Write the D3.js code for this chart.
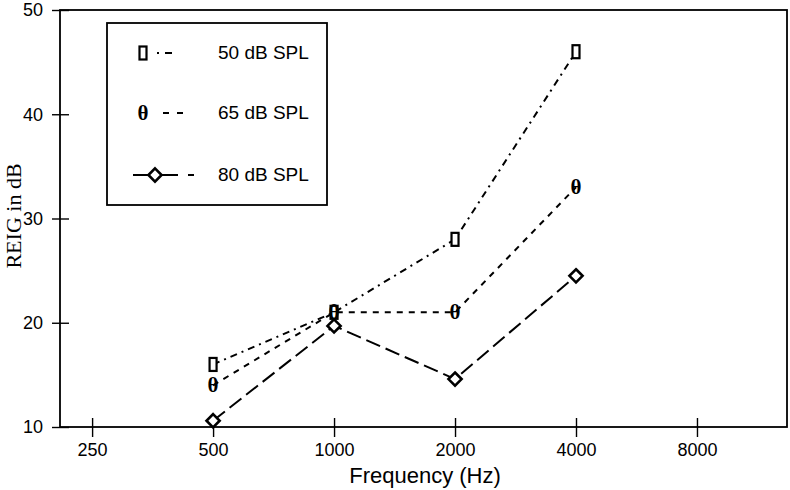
<!DOCTYPE html>
<html>
<head>
<meta charset="utf-8">
<script src="https://cdn.jsdelivr.net/npm/d3@7"></script>
<style>
  body { margin: 0; background: #fff; }
  svg text { fill: #000; }
</style>
</head>
<body>
<div id="chart"></div>
<script>
// Data
const frequencies = [500, 1000, 2000, 4000];
const spl50 = [16, 21, 28, 46];
const spl65 = [14, 21, 21, 33];
const spl80 = [10.6, 19.7, 14.6, 24.5];
const xTicks = [250, 500, 1000, 2000, 4000, 8000];
const yTicks = [10, 20, 30, 40, 50];
const seriesNames = ["50 dB SPL", "65 dB SPL", "80 dB SPL"];

const margin = { top: 10, right: 3, bottom: 63, left: 60 },
    width = 790 - margin.left - margin.right,
    height = 490 - margin.top - margin.bottom;

const sans = "Liberation Sans, Arial, sans-serif";
const serif = "Liberation Serif, Times New Roman, serif";

const svg = d3.select("#chart")
    .append("svg")
    .attr("width", 790)
    .attr("height", 490)
    .append("g")
    .attr("transform", `translate(${margin.left},${margin.top})`);

// Scales
const x = d3.scaleLog().base(2)
    .domain([208, 13400])
    .range([0, width]);

const y = d3.scaleLinear()
    .domain([10, 50])
    .range([height, 0]);

// Frame
svg.append("rect")
    .attr("width", width)
    .attr("height", height)
    .attr("fill", "none")
    .attr("stroke", "#000")
    .attr("stroke-width", 1.8);

// X axis
const xAxis = svg.append("g")
    .attr("transform", `translate(0,${height})`)
    .call(d3.axisBottom(x).tickValues(xTicks).tickFormat(d3.format("d")).tickSize(10).tickPadding(6));
xAxis.select(".domain").remove();
xAxis.selectAll(".tick line").attr("y1", -9).attr("stroke-width", 1.4);
xAxis.selectAll("text")
    .style("font-family", sans)
    .style("font-size", "18px");

// Y axis
const yAxis = svg.append("g")
    .call(d3.axisLeft(y).tickValues(yTicks).tickSize(8).tickPadding(9));
yAxis.select(".domain").remove();
yAxis.selectAll(".tick line").attr("x1", -8).attr("x2", 9).attr("stroke-width", 1.4);
yAxis.selectAll("text")
    .style("font-family", sans)
    .style("font-size", "18px");

// Axis titles
svg.append("text")
    .attr("x", 365)
    .attr("y", 473)
    .attr("text-anchor", "middle")
    .style("font-family", sans)
    .style("font-size", "22px")
    .text("Frequency (Hz)");

svg.append("text")
    .attr("transform", "rotate(-90)")
    .attr("x", -206)
    .attr("y", -39)
    .attr("text-anchor", "middle")
    .style("font-family", serif)
    .style("font-size", "22px")
    .text("REIG in dB");

// Lines
const series = [
    { values: spl50, dash: "7,5,2,5" },
    { values: spl65, dash: "6,6" },
    { values: spl80, dash: "15,6" }
];

const line = d3.line()
    .x((d, i) => x(frequencies[i]))
    .y(d => y(d));

series.forEach(s => {
    svg.append("path")
        .datum(s.values)
        .attr("d", line)
        .attr("fill", "none")
        .attr("stroke", "#000")
        .attr("stroke-width", 2)
        .attr("stroke-dasharray", s.dash);
});

// Markers
function drawRect(g, cx, cy) {
    g.append("rect")
        .attr("x", cx - 3.5).attr("y", cy - 6.5)
        .attr("width", 7).attr("height", 13)
        .attr("fill", "#fff").attr("stroke", "#000").attr("stroke-width", 2.2);
}
function drawTheta(g, cx, cy) {
    g.append("text")
        .attr("x", cx).attr("y", cy + 7)
        .attr("text-anchor", "middle")
        .style("font-family", serif)
        .style("font-size", "21px")
        .style("font-weight", "bold")
        .text("θ");
}
function drawDiamond(g, cx, cy) {
    g.append("path")
        .attr("d", d3.symbol().type(d3.symbolDiamond2).size(110)())
        .attr("transform", `translate(${cx},${cy})`)
        .attr("fill", "#fff").attr("stroke", "#000").attr("stroke-width", 2.6);
}

spl50.forEach((v, i) => drawRect(svg, x(frequencies[i]), y(v)));
spl65.forEach((v, i) => drawTheta(svg, x(frequencies[i]), y(v)));
spl80.forEach((v, i) => drawDiamond(svg, x(frequencies[i]), y(v)));

// Legend
const legend = svg.append("g").attr("transform", "translate(47,13)");
legend.append("rect")
    .attr("width", 220)
    .attr("height", 182)
    .attr("fill", "#fff")
    .attr("stroke", "#000")
    .attr("stroke-width", 1.8);

const rowsY = [30, 90, 152];
const markers = [drawRect, drawTheta, drawDiamond];
seriesNames.forEach((name, i) => {
    const ry = rowsY[i];
    if (i === 0) {
        legend.append("line").attr("x1", 40).attr("x2", 74).attr("y1", ry).attr("y2", ry)
            .attr("stroke", "#000").attr("stroke-width", 2).attr("stroke-dasharray", "0,10,2,6,7,20");
    } else if (i === 1) {
        legend.append("line").attr("x1", 46).attr("x2", 78).attr("y1", ry).attr("y2", ry)
            .attr("stroke", "#000").attr("stroke-width", 2).attr("stroke-dasharray", "0,10,6,8,6,20");
    } else {
        legend.append("line").attr("x1", 26).attr("x2", 88).attr("y1", ry).attr("y2", ry)
            .attr("stroke", "#000").attr("stroke-width", 2).attr("stroke-dasharray", "45,10,6,20");
    }
    markers[i](legend, i === 2 ? 48 : 36, ry);
    legend.append("text")
        .attr("x", 111)
        .attr("y", ry + 6)
        .style("font-family", sans)
        .style("font-size", "19px")
        .text(name);
});
</script>
</body>
</html>
